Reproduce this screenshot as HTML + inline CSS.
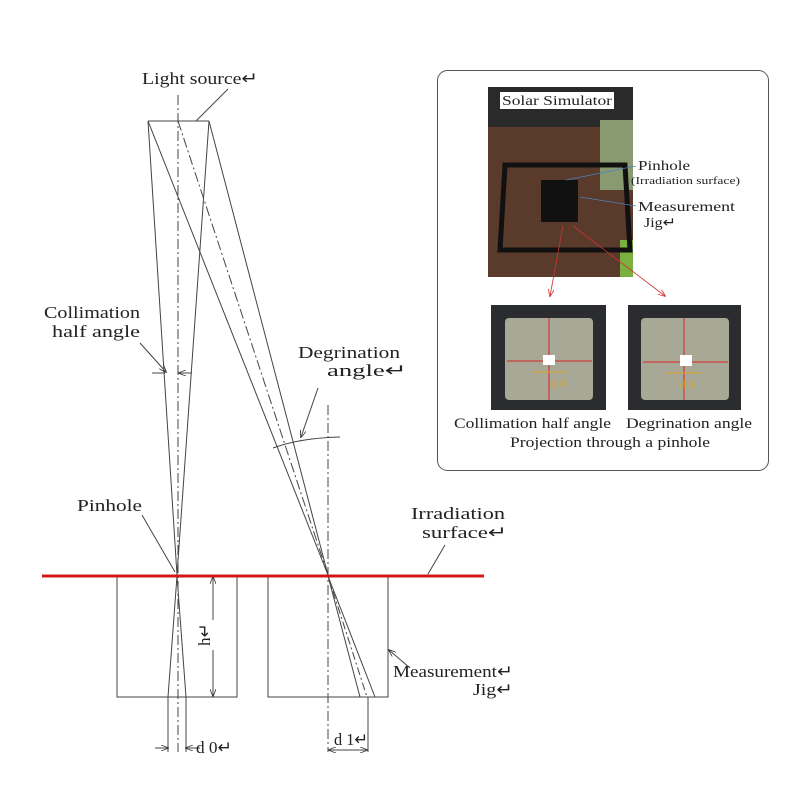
<!DOCTYPE html>
<html><head><meta charset="utf-8"><style>
html,body{margin:0;padding:0;background:#fff;}
svg{display:block;}
text{font-family:"Liberation Serif",serif;fill:#222;}
</style></head><body>
<svg width="800" height="800" viewBox="0 0 800 800" xmlns="http://www.w3.org/2000/svg">
<defs>
<marker id="ah" markerWidth="8" markerHeight="6" refX="7" refY="3" orient="auto" markerUnits="userSpaceOnUse"><path d="M0,0 L8,3 L0,6" fill="none" stroke="#333" stroke-width="0.8"/></marker>
<marker id="ahr" markerWidth="8" markerHeight="6" refX="7" refY="3" orient="auto" markerUnits="userSpaceOnUse"><path d="M0,0 L8,3 L0,6" fill="none" stroke="#c33" stroke-width="0.8"/></marker>
</defs>
<g stroke="#444" stroke-width="1" fill="none">
<line x1="148" y1="121" x2="209" y2="121"/>
<line x1="148" y1="121" x2="177" y2="575"/>
<line x1="209" y1="121" x2="177" y2="575"/>
<line x1="148" y1="121" x2="328" y2="575"/>
<line x1="209" y1="121" x2="328" y2="575"/>
<line x1="178" y1="121" x2="328" y2="575" stroke-dasharray="10,3,2,3"/>
<line x1="178" y1="95" x2="178" y2="752" stroke-dasharray="10,3,2,3"/>
<line x1="328" y1="405" x2="328" y2="752" stroke-dasharray="10,3,2,3"/>
<path d="M117,576 V697 H237 V576"/>
<path d="M268,576 V697 H388 V576"/>
<line x1="177" y1="576" x2="168" y2="697"/>
<line x1="177" y1="576" x2="186" y2="697"/>
<line x1="168" y1="697" x2="168" y2="752"/>
<line x1="186" y1="697" x2="186" y2="752"/>
<line x1="155" y1="748" x2="168" y2="748" marker-end="url(#ah)"/>
<line x1="200" y1="748" x2="186" y2="748" marker-end="url(#ah)"/>
<line x1="328" y1="576" x2="360" y2="697"/>
<line x1="328" y1="576" x2="375" y2="697"/>
<line x1="328" y1="576" x2="367" y2="697" stroke-dasharray="8,3,2,3"/>
<line x1="368" y1="697" x2="368" y2="752"/>
<line x1="330" y1="750" x2="367" y2="750" marker-end="url(#ah)"/>
<line x1="366" y1="750" x2="329" y2="750" marker-end="url(#ah)"/>
<line x1="213" y1="620" x2="213" y2="577" marker-end="url(#ah)"/>
<line x1="213" y1="650" x2="213" y2="696" marker-end="url(#ah)"/>
<line x1="228" y1="89" x2="196" y2="121"/>
<line x1="140" y1="343" x2="166" y2="372" marker-end="url(#ah)"/>
<line x1="152" y1="373" x2="165" y2="373"/>
<line x1="192" y1="373" x2="179" y2="373" marker-end="url(#ah)"/>
<line x1="318" y1="388" x2="301" y2="437" marker-end="url(#ah)"/>
<path d="M273,448 Q300,438 340,437"/>
<line x1="142" y1="515" x2="175" y2="572"/>
<line x1="445" y1="545" x2="428" y2="574"/>
<line x1="410" y1="668" x2="389" y2="650" marker-end="url(#ah)"/>
</g>
<line x1="42" y1="576" x2="484" y2="576" stroke="#d01818" stroke-width="3"/>
<g font-size="17" lengthAdjust="spacingAndGlyphs">
<text x="142" y="84" textLength="116" lengthAdjust="spacingAndGlyphs">Light source↵</text>
<text x="44" y="318" textLength="96" lengthAdjust="spacingAndGlyphs">Collimation</text>
<text x="52" y="337" textLength="88" lengthAdjust="spacingAndGlyphs">half angle</text>
<text x="298" y="358" textLength="102" lengthAdjust="spacingAndGlyphs">Degrination</text>
<text x="327" y="376" textLength="80" lengthAdjust="spacingAndGlyphs">angle↵</text>
<text x="77" y="511" textLength="65" lengthAdjust="spacingAndGlyphs">Pinhole</text>
<text x="411" y="519" textLength="94" lengthAdjust="spacingAndGlyphs">Irradiation</text>
<text x="422" y="538" textLength="85" lengthAdjust="spacingAndGlyphs">surface↵</text>
<text x="393" y="677" textLength="120" lengthAdjust="spacingAndGlyphs">Measurement↵</text>
<text x="473" y="695" textLength="40" lengthAdjust="spacingAndGlyphs">Jig↵</text>
<text x="196" y="753" textLength="36" lengthAdjust="spacingAndGlyphs">d 0↵</text>
<text x="334" y="745" textLength="34" lengthAdjust="spacingAndGlyphs">d 1↵</text>
</g>
<text transform="translate(210,646) rotate(-90)" font-size="17">h↵</text>
<rect x="437.5" y="70.5" width="331" height="400" rx="10" fill="#fff" stroke="#555" stroke-width="1"/>
<rect x="488" y="87" width="145" height="190" fill="#5a3a2a"/>
<rect x="488" y="87" width="145" height="40" fill="#2a2a2a"/>
<rect x="600" y="120" width="33" height="70" fill="#8a9a70"/>
<rect x="620" y="240" width="13" height="37" fill="#7ab040"/>
<path d="M505,165 L625,165 L630,250 L500,250 Z" fill="none" stroke="#111" stroke-width="5"/>
<rect x="541" y="180" width="37" height="42" fill="#111"/>
<rect x="500" y="92" width="114" height="17" fill="#fff"/>
<text x="502" y="105" font-size="14" textLength="110" lengthAdjust="spacingAndGlyphs">Solar Simulator</text>
<text x="638" y="170" font-size="14" textLength="52" lengthAdjust="spacingAndGlyphs">Pinhole</text>
<text x="631" y="184" font-size="10" textLength="109" lengthAdjust="spacingAndGlyphs">(Irradiation surface)</text>
<text x="638" y="211" font-size="14" textLength="97" lengthAdjust="spacingAndGlyphs">Measurement</text>
<text x="644" y="227" font-size="14" textLength="32" lengthAdjust="spacingAndGlyphs">Jig↵</text>
<g stroke="#4a7fc0" stroke-width="0.8"><line x1="566" y1="180" x2="636" y2="166"/><line x1="580" y1="197" x2="636" y2="206"/></g>
<g stroke="#c33" stroke-width="0.8" fill="none"><line x1="563" y1="226" x2="550" y2="296" marker-end="url(#ahr)"/><line x1="573" y1="226" x2="665" y2="296" marker-end="url(#ahr)"/></g>
<rect x="491" y="305" width="115" height="105" fill="#2a2c30"/>
<rect x="505" y="318" width="88" height="82" rx="4" fill="#a8a896"/>
<line x1="549" y1="318" x2="549" y2="400" stroke="#d22" stroke-width="1"/>
<line x1="507" y1="361" x2="592" y2="361" stroke="#d22" stroke-width="1"/>
<rect x="543" y="355" width="12" height="10" fill="#fff"/>
<line x1="531" y1="372" x2="567" y2="372" stroke="#e0a020"/>
<text x="551" y="387" font-size="12" style="fill:#e0a020">d 0</text>
<rect x="628" y="305" width="113" height="105" fill="#2a2c30"/>
<rect x="641" y="318" width="88" height="82" rx="4" fill="#a8a896"/>
<line x1="684" y1="318" x2="684" y2="400" stroke="#d22" stroke-width="1"/>
<line x1="643" y1="362" x2="728" y2="362" stroke="#d22" stroke-width="1"/>
<rect x="680" y="355" width="12" height="11" fill="#fff"/>
<line x1="666" y1="373" x2="702" y2="373" stroke="#e0a020"/>
<text x="680" y="388" font-size="12" style="fill:#e0a020">d 1</text>
<text x="454" y="428" font-size="15" textLength="157" lengthAdjust="spacingAndGlyphs">Collimation half angle</text>
<text x="626" y="428" font-size="15" textLength="126" lengthAdjust="spacingAndGlyphs">Degrination angle</text>
<text x="510" y="447" font-size="15" textLength="200" lengthAdjust="spacingAndGlyphs">Projection through a pinhole</text>
</svg>
</body></html>
